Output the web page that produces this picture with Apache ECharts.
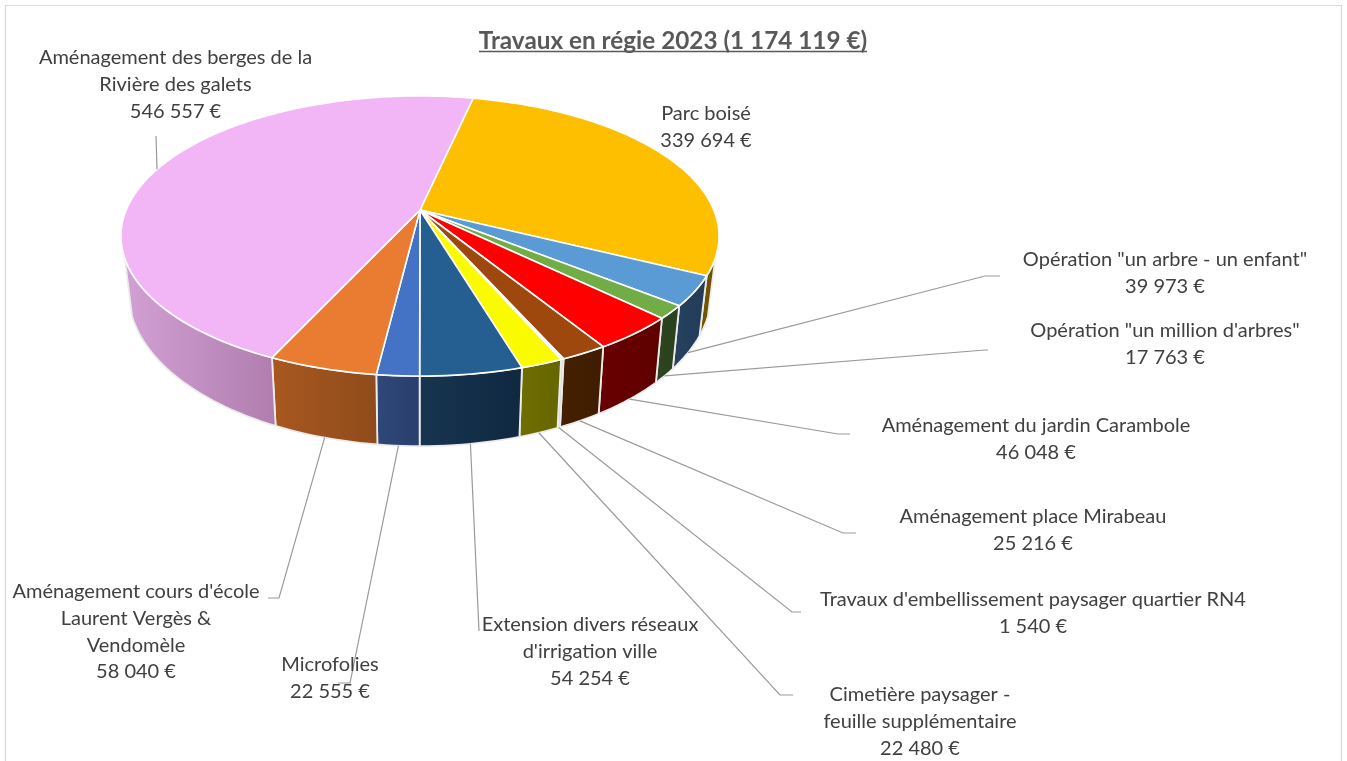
<!DOCTYPE html>
<html>
<head>
<meta charset="utf-8">
<script src="https://cdn.jsdelivr.net/npm/echarts@6/dist/echarts.min.js"></script>
<style>html,body{margin:0;padding:0;background:#fff}#c{width:1347px;height:761px}</style>
</head>
<body>
<div id="c"></div>
<script>
// ---- data ----
var chartTitle = 'Travaux en régie 2023 (1 174 119 €)';
var categories = [
  'Parc boisé',
  'Opération "un arbre - un enfant"',
  'Opération "un million d\'arbres"',
  'Aménagement du jardin Carambole',
  'Aménagement place Mirabeau',
  'Travaux d\'embellissement paysager quartier RN4',
  'Cimetière paysager -\nfeuille supplémentaire',
  'Extension divers réseaux\nd\'irrigation ville',
  'Microfolies',
  'Aménagement cours d\'école\nLaurent Vergès &\nVendomèle',
  'Aménagement des berges de la\nRivière des galets'
];
var values = [339694, 39973, 17763, 46048, 25216, 1540, 22480, 54254, 22555, 58040, 546557];

// ---- styles ----
var topColors = ['#fdbf00','#5b9bd5','#70ad47','#ff0000','#9e480e','#e8e8e8','#fbfb00','#255e91','#4472c4','#e97c30','#f2b5f5'];
var wallLight = ['#725800','#26425f','#2d4521','#680000','#452000','#d6d6d6','#6e6e00','#173550','#2f4878','#a9581f','#d2a0d4'];
var wallDark  = ['#6a5000','#223c58','#2a401e','#600000','#3f1d00','#d0d0d0','#666600','#102840','#293f6d','#8e4b1b','#b07dae'];
var labelAnchors = [[706,113],[1165,259],[1165,330],[1036,425],[1033,516],[1033,599],[920,694],[590,624],[330,664],[136,591],[175.5,57]];
var leaderElbows = [null,[[985,276],[1000,276]],[[985,350],[988,350]],[[838,434],[850,434]],[[843,533],[856,533]],[[792,612],[801,612]],[[780,695],[793,695]],[[479,631],[479,631]],[[350,683],[338,683]],[[279,598],[268,598]],[[156,136],[156,136]]];

// ---- pie projection (tilted disc in perspective) ----
var cx = 420, cy = 210, A = 293.8, B = 135.2, K = -0.1857, startDeg = 12.35;
var wallFrom = 109.5, wallTo = 250.5;
var total = values.reduce(function(a,b){return a+b;},0);
var starts = [];
values.reduce(function(acc,v,i){starts[i]=acc;return acc+v/total*360;},startDeg);

function topPt(deg){
  var t = deg*Math.PI/180, s = Math.sin(t), v = -Math.cos(t), d = 1+K*v;
  return [cx+A*s/d, cy+B*v/d];
}
function lowPt(deg){
  var p = topPt(deg);
  return [cx+0.975*(p[0]-cx), 335+1.1*(p[1]-275)];
}
function arc(fn,a,b){
  var pts=[], n=Math.max(2,Math.ceil(Math.abs(b-a)/1.5));
  for(var i=0;i<=n;i++) pts.push(fn(a+(b-a)*i/n));
  return pts;
}
function money(v){ return String(v).replace(/\B(?=(\d{3})+$)/g,' ')+' €'; }

function renderSlice(params, api){
  var i = api.value(0), v = api.value(1);
  var a = starts[i], b = a+v/total*360;
  var children = [];
  var wa = Math.max(a,wallFrom), wb = Math.min(b,wallTo);
  if (wb>wa){
    var lo = arc(lowPt,wa,wb).reverse();
    children.push({type:'polygon',shape:{points:arc(topPt,wa,wb).concat(lo)},
      style:{fill:{type:'linear',x:0,y:0,x2:1,y2:0,colorStops:[{offset:0,color:wallLight[i]},{offset:1,color:wallDark[i]}]},
             stroke:'#ececec',lineWidth:1.8,lineJoin:'round'}});
  }
  children.push({type:'polygon',shape:{points:[[cx,cy]].concat(arc(topPt,a,b))},
    style:{fill:topColors[i],stroke:'#ffffff',lineWidth:1.6,lineJoin:'round'}});
  return {type:'group',children:children};
}
function renderLabel(params, api){
  var i = api.value(0), v = api.value(1);
  var mid = starts[i]+v/total*180;
  var children = [];
  if (leaderElbows[i]){
    var origin = i===values.length-1 ? topPt(mid) : lowPt(mid);
    children.push({type:'polyline',shape:{points:[origin].concat(leaderElbows[i])},
      style:{fill:'none',stroke:'#9a9a9a',lineWidth:1.2}});
  }
  children.push({type:'text',style:{text:categories[i]+'\n'+money(v),x:labelAnchors[i][0],y:labelAnchors[i][1]-12.8,
    align:'center',verticalAlign:'top',lineHeight:26.8,fontFamily:'Lato',fontSize:20,fill:'#404040',textAlign:'center',textVerticalAlign:'top'}});
  return {type:'group',children:children};
}

var data = values.map(function(v,i){return [i,v];});
var chart = echarts.init(document.getElementById('c'));
chart.setOption({
  animation:false,
  backgroundColor:'#ffffff',
  title:{text:chartTitle,left:668,top:24,textAlign:'center',
    textStyle:{fontFamily:'Lato',fontWeight:'bold',fontSize:24.3,color:'#595959'}},
  graphic:[
    {type:'rect',shape:{x:5.5,y:5.5,width:1336,height:770},style:{fill:'none',stroke:'#d9d9d9',lineWidth:1.2},silent:true,z:-1},
    {type:'line',shape:{x1:479,y1:51.5,x2:867,y2:51.5},style:{stroke:'#595959',lineWidth:1.6},silent:true}
  ],
  series:[
    {type:'custom',coordinateSystem:'none',silent:true,z:2,data:data,renderItem:renderSlice,clip:false},
    {type:'custom',coordinateSystem:'none',silent:true,z:3,data:data,renderItem:renderLabel,clip:false}
  ]
});
</script>
</body>
</html>
